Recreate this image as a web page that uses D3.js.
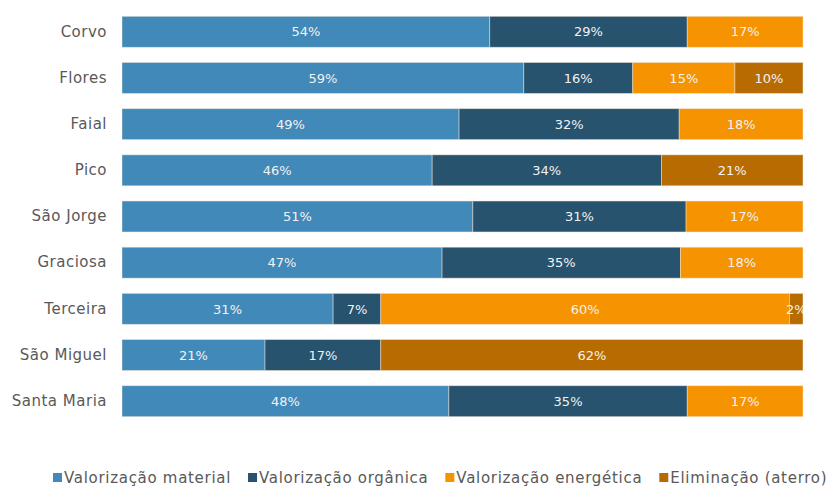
<!DOCTYPE html>
<html>
<head>
<meta charset="utf-8">
<script src="https://cdn.jsdelivr.net/npm/d3@7"></script>
<style>
  body { margin: 0; background: #fff; }
  svg { font-family: "DejaVu Sans", sans-serif; }
</style>
</head>
<body>
<svg id="chart" width="830" height="486"></svg>
<script>
// Data
const islands    = ["Corvo", "Flores", "Faial", "Pico", "São Jorge", "Graciosa", "Terceira", "São Miguel", "Santa Maria"];
const material   = [54, 59, 49, 46, 51, 47, 31, 21, 48];
const organica   = [29, 16, 32, 34, 31, 35, 7, 17, 35];
const energetica = [17, 15, 18, 0, 17, 18, 60, 0, 17];
const eliminacao = [0, 10, 0, 21, 0, 0, 2, 62, 0];

const seriesNames  = ["Valorização material", "Valorização orgânica", "Valorização energética", "Eliminação (aterro)"];
const seriesKeys   = ["material", "organica", "energetica", "eliminacao"];
const seriesColors = ["#4189b9", "#27536e", "#f59300", "#b86b00"];

const rows = islands.map((name, i) => ({
    name,
    material: material[i],
    organica: organica[i],
    energetica: energetica[i],
    eliminacao: eliminacao[i]
}));

// Layout
const plot = { left: 122, right: 803, top: 8.7, bottom: 424.3 };

const svg = d3.select("#chart");

const x = d3.scaleLinear().domain([0, 1]).range([plot.left, plot.right]);
const y = d3.scaleBand().domain(islands).range([plot.top, plot.bottom])
    .paddingInner(0.33).paddingOuter(0.165);
const color = d3.scaleOrdinal().domain(seriesKeys).range(seriesColors);

const stacked = d3.stack()
    .keys(seriesKeys)
    .offset(d3.stackOffsetExpand)(rows);

svg.append("clipPath").attr("id", "plotClip")
    .append("rect")
    .attr("x", plot.left).attr("y", 0)
    .attr("width", plot.right - plot.left + 0.5).attr("height", plot.bottom);

// Category axis
const yAxis = svg.append("g")
    .attr("transform", `translate(${plot.left},0)`)
    .call(d3.axisLeft(y).tickSize(0).tickPadding(15));
yAxis.select(".domain").remove();
yAxis.selectAll("text")
    .attr("font-size", "15px")
    .attr("letter-spacing", "0.5px")
    .attr("fill", "#595959")
    .attr("font-family", "DejaVu Sans, sans-serif");

// Bars
const layers = svg.append("g").attr("clip-path", "url(#plotClip)")
    .selectAll("g.layer")
    .data(stacked)
    .join("g")
    .attr("class", "layer")
    .attr("fill", d => color(d.key));

layers.selectAll("rect")
    .data(d => d.filter(s => s.data[d.key] > 0))
    .join("rect")
    .attr("x", d => x(d[0]))
    .attr("y", d => y(d.data.name))
    .attr("width", d => x(d[1]) - x(d[0]))
    .attr("height", y.bandwidth())
    .attr("stroke", "#f2e6d9")
    .attr("stroke-opacity", 0.6)
    .attr("stroke-width", 0.8);

// Data labels
layers.each(function (layer) {
    d3.select(this).selectAll("text")
        .data(layer.filter(s => s.data[layer.key] > 0))
        .join("text")
        .attr("x", d => (x(d[0]) + x(d[1])) / 2)
        .attr("y", d => y(d.data.name) + y.bandwidth() / 2)
        .attr("dy", "0.36em")
        .attr("text-anchor", "middle")
        .attr("font-size", "13px")
        .attr("fill", "#f2f2f2")
        .text(d => d.data[layer.key] + "%");
});

// Legend
const legend = svg.append("g").attr("transform", "translate(53,478)");
let lx = 0;
seriesKeys.forEach((key, i) => {
    const item = legend.append("g").attr("transform", `translate(${lx},0)`);
    item.append("rect")
        .attr("x", 0).attr("y", -5)
        .attr("width", 9).attr("height", 9)
        .attr("fill", color(key));
    const t = item.append("text")
        .attr("x", 11).attr("y", 0)
        .attr("dy", "0.36em")
        .attr("font-size", "15px")
        .attr("letter-spacing", "0.7px")
        .attr("fill", "#595959")
        .text(seriesNames[i]);
    lx += 11 + t.node().getComputedTextLength() + 17;
});
</script>
</body>
</html>
